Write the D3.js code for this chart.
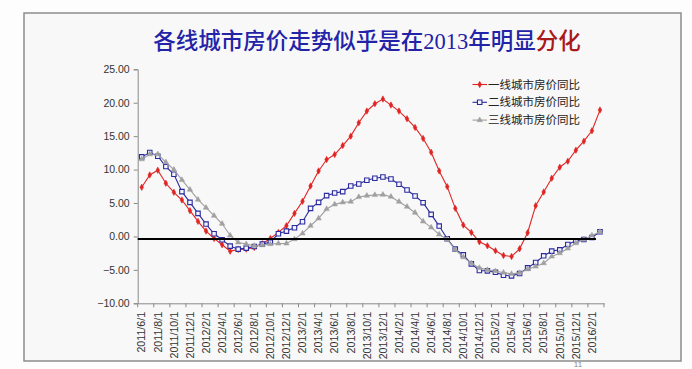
<!DOCTYPE html>
<html><head><meta charset="utf-8">
<script src="https://cdn.jsdelivr.net/npm/d3@7/dist/d3.min.js"></script>
<style>
html,body{margin:0;padding:0;background:#fdfdfd;}
svg{display:block;}
</style></head>
<body>
<svg id="chart" width="692" height="369"></svg>
<script>
const categories = [
"2011/6/1","2011/7/1","2011/8/1","2011/9/1","2011/10/1","2011/11/1","2011/12/1",
"2012/1/1","2012/2/1","2012/3/1","2012/4/1","2012/5/1","2012/6/1","2012/7/1","2012/8/1","2012/9/1","2012/10/1","2012/11/1","2012/12/1",
"2013/1/1","2013/2/1","2013/3/1","2013/4/1","2013/5/1","2013/6/1","2013/7/1","2013/8/1","2013/9/1","2013/10/1","2013/11/1","2013/12/1",
"2014/1/1","2014/2/1","2014/3/1","2014/4/1","2014/5/1","2014/6/1","2014/7/1","2014/8/1","2014/9/1","2014/10/1","2014/11/1","2014/12/1",
"2015/1/1","2015/2/1","2015/3/1","2015/4/1","2015/5/1","2015/6/1","2015/7/1","2015/8/1","2015/9/1","2015/10/1","2015/11/1","2015/12/1",
"2016/1/1","2016/2/1","2016/3/1"];

const tier1 = [7.35,9.2,9.9,7.95,6.6,5.45,3.85,2.25,0.8,-0.3,-1.25,-2.2,-1.95,-1.9,-1.65,-1.1,-0.3,0.6,1.6,3.45,
5.25,7.55,9.8,11.5,12.25,13.6,15.0,17.0,18.75,19.85,20.55,19.65,18.75,17.6,16.3,14.65,12.6,9.8,7.45,4.2,
1.7,0.6,-0.8,-1.4,-2.15,-2.85,-3.0,-1.85,0.55,4.6,6.65,8.7,10.35,11.25,12.9,14.25,15.8,18.9];

const tier2 = [11.9,12.55,12.0,10.45,9.3,6.7,5.1,3.45,1.85,0.4,-0.5,-1.45,-1.9,-1.75,-1.5,-1.15,-0.85,0.4,0.8,1.3,
2.2,4.2,5.1,6.1,6.5,6.7,7.55,7.85,8.4,8.7,8.9,8.6,7.8,6.95,6.05,5.05,3.3,1.55,-0.35,-1.9,
-2.75,-4.1,-5.1,-5.15,-5.35,-5.8,-5.9,-5.55,-4.7,-3.9,-2.9,-2.2,-2.0,-1.2,-0.65,-0.45,-0.15,0.7];

const tier3 = [11.55,12.3,12.3,11.1,10.0,8.45,7.0,5.5,4.3,3.1,1.9,0.15,-0.9,-1.15,-1.4,-1.3,-1.15,-1.05,-1.05,-0.4,
0.45,1.6,2.7,4.1,4.8,5.1,5.2,5.9,6.1,6.2,6.25,5.95,5.2,4.45,3.55,2.25,1.35,0.3,-0.45,-2.0,
-3.1,-4.0,-4.7,-5.0,-5.2,-5.4,-5.6,-5.45,-4.9,-4.5,-4.0,-3.0,-2.5,-1.8,-1.0,-0.45,0.15,0.7];

const seriesNames = ["一线城市房价同比","二线城市房价同比","三线城市房价同比"];
const yTicks = [-10,-5,0,5,10,15,20,25];
const xTickLabels = categories.filter((d,i)=>i%2===0);
const baselineValue = -0.4;
const titleMain = "各线城市房价走势似乎是在2013年明显";
const titleEmph = "分化";
const pageNumber = "11";

const svg = d3.select("#chart");

// slide frame
svg.append("rect").attr("x",24).attr("y",13).attr("width",657).attr("height",348)
  .attr("fill","#f8f8f8").attr("stroke","#8c8c8c").attr("stroke-width",1.5);

// title
const title = svg.append("text").attr("x",367).attr("y",49).attr("text-anchor","middle")
  .attr("font-family","'Liberation Serif','Noto Sans CJK SC',serif").attr("font-size",22.5).attr("font-weight",500);
title.append("tspan").attr("fill","#2323a8").text(titleMain);
title.append("tspan").attr("fill","#a81a1a").text(titleEmph);

const x = d3.scaleBand().domain(categories).range([137.7,604]).padding(0);
const y = d3.scaleLinear().domain([-10,25]).range([303.3,69.3]);
const cx = d => x(d) + x.bandwidth()/2;

// y axis
const yAxis = svg.append("g").attr("transform","translate(137.7,0)")
  .call(d3.axisLeft(y).tickValues(yTicks).tickFormat(d3.format(".2f")).tickSize(4).tickPadding(4));
yAxis.select(".domain").attr("stroke","#8a8a8a");
yAxis.selectAll(".tick line").attr("stroke","#8a8a8a");
yAxis.selectAll("text").attr("font-family","'Liberation Sans',Arial,sans-serif").attr("font-size",10.5).attr("fill","#333");

// x axis
const xAxis = svg.append("g").attr("transform","translate(0,303.3)")
  .call(d3.axisBottom(x).tickValues(xTickLabels).tickSize(4).tickSizeOuter(0));
xAxis.select(".domain").attr("stroke","#8a8a8a");
xAxis.selectAll(".tick line").attr("stroke","#8a8a8a").attr("x1",-x.bandwidth()/2).attr("x2",-x.bandwidth()/2);
xAxis.append("line").attr("x1",x.range()[1]).attr("x2",x.range()[1]).attr("y1",0).attr("y2",4).attr("stroke","#8a8a8a");
xAxis.selectAll("text").attr("font-family","'Liberation Sans',Arial,sans-serif").attr("font-size",10.7).attr("fill","#333")
  .attr("transform","rotate(-90)").attr("text-anchor","end").attr("x",-8.5).attr("y",0).attr("dy","0.35em");

const series = [
  {name:seriesNames[0], values:tier1, color:"#e02424", sym:d3.symbolDiamond, size:12, fill:"#e02424"},
  {name:seriesNames[1], values:tier2, color:"#2b2b9e", sym:d3.symbolSquare, size:20, fill:"#f4f4ff"},
  {name:seriesNames[2], values:tier3, color:"#a0a0a0", sym:d3.symbolTriangle, size:13, fill:"#a0a0a0"}
];

const line = d3.line().x((d,i)=>cx(categories[i])).y(d=>y(d));

series.forEach(s=>{
  const g = svg.append("g");
  g.append("path").datum(s.values).attr("d",line).attr("fill","none").attr("stroke",s.color).attr("stroke-width",1.1);
  g.selectAll("path.m").data(s.values).enter().append("path").attr("class","m")
    .attr("d",d3.symbol().type(s.sym).size(s.size))
    .attr("transform",(d,i)=>`translate(${cx(categories[i])},${y(d)})`)
    .attr("fill",s.fill).attr("stroke",s.color).attr("stroke-width",s.sym===d3.symbolSquare?1.1:0.5);
});

// black reference line
svg.append("line").attr("x1",x.range()[0]).attr("x2",x(categories[categories.length-1]))
  .attr("y1",y(baselineValue)).attr("y2",y(baselineValue)).attr("stroke","#000").attr("stroke-width",2);

// legend
const legend = svg.append("g");
series.forEach((s,i)=>{
  const ly = 84.5 + i*17.8;
  legend.append("line").attr("x1",472.5).attr("x2",487).attr("y1",ly).attr("y2",ly).attr("stroke",s.color).attr("stroke-width",1.1);
  legend.append("path").attr("d",d3.symbol().type(s.sym).size(s.size)).attr("transform",`translate(479.7,${ly})`)
    .attr("fill",s.fill).attr("stroke",s.color).attr("stroke-width",s.sym===d3.symbolSquare?1.1:0.5);
  legend.append("text").attr("x",488).attr("y",ly).attr("dy","0.36em")
    .attr("font-family","'Noto Sans CJK SC',sans-serif").attr("font-size",11.5).attr("fill","#222").text(s.name);
});

// page number
svg.append("text").attr("x",578).attr("y",367).attr("text-anchor","middle")
  .attr("font-family","'Liberation Sans',Arial,sans-serif").attr("font-size",8).attr("fill","#888").text(pageNumber);
</script>
</body></html>
